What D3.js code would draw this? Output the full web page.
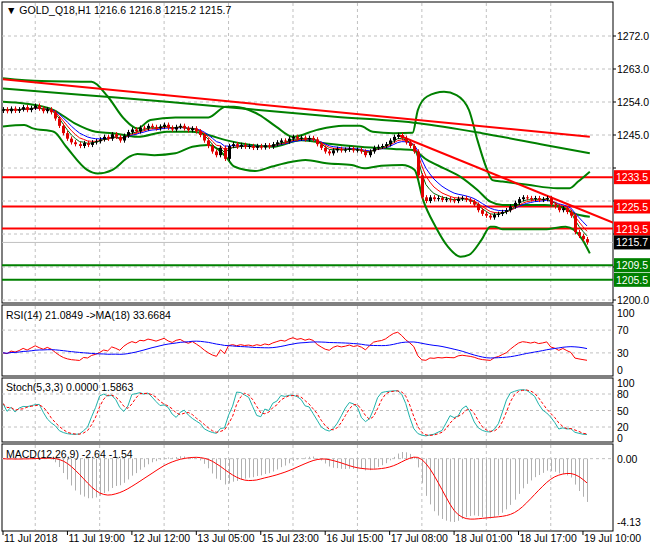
<!DOCTYPE html>
<html><head><meta charset="utf-8">
<script src="https://cdn.jsdelivr.net/npm/d3@7"></script>
<style>body{margin:0;background:#fff}text{font-family:"Liberation Sans",Arial,sans-serif}</style>
</head><body><svg id="c" width="650" height="550"></svg>
<script>
// ---------- data ----------
const closes = [1252,1251.5,1252.2,1251.6,1252,1252.6,1251.8,1252.4,1253,1252.2,1251.5,1252,1251.2,
1249.5,1247.5,1245.5,1244,1243,
1242.5,1242,1242.8,1242.3,1243,1243.3,1243.8,
1244.5,1244,1245.2,1244.5,1243.5,1244.8,
1245.8,1246.5,1246,1247,1246.8,
1247.5,1247.2,1246.8,1247.3,1247.8,1247,1246.5,1247.2,1247.5,1246.8,1246.3,1246.8,1246,
1245,1243.5,1242,
1240.5,1239.5,1241.5,1238.5,1242,
1242.5,1241.8,1242.3,1241.8,1242,1241.5,1242,1241.6,1242.2,1241.8,1242.5,
1243,1243.5,1243.2,1244,1244.5,
1244,1244.3,1243.8,1244.2,1243.8,1242.5,
1241.5,1240.5,1240,1240.8,
1241.2,1240.8,1241,1241.3,1240.8,1241,1240.5,
1239.5,1240.5,
1241.5,1241.8,1242,1242.5,1243.5,
1244.5,1245,1244.2,
1243,1242,1240.5,
1234,1228,1227,
1228,1227.5,1227.8,1227.3,1227.5,1227.2,1227,1227.6,1227.8,1227.3,1226.8,
1226,1224.5,1223.5,1223,1222.5,
1223.2,1223.5,1224,1224.5,
1225.5,1226.5,1227.5,
1228,1227.8,1227.5,1227.8,1227.3,1227.5,1227.8,
1226,1225.5,1224.5,1225,1224,1223,
1218.5,1217.5,1216.6,1215.7];
const firstOpen = 1251.6;
const wick = 0.6;
// bands: [barIndex, price]
const bbUpper = [[0,1260.5],[9.5,1259.7],[22,1259.5],[26,1255.5],[30,1249.5],[33.4,1246.8],[36.6,1249.1],[42.8,1249.8],[51,1249.8],[55.3,1252.7],[57.4,1252.7],[63.6,1250.5],[67.8,1247.3],[72,1244.5],[78,1246.4],[84.5,1247.5],[88.6,1247.5],[91.8,1245.9],[97,1245.5],[101.7,1245.6],[103,1251.8],[105.3,1255.5],[109.5,1256.8],[112.6,1255.9],[115.7,1251.8],[117.8,1243.6],[119.9,1236.4],[121.5,1232.7],[124,1232.3],[130.3,1231.4],[137.6,1230.5],[140.7,1230.5],[142.8,1232.3],[145.7,1235]];
const bbLower = [[0,1247.3],[5.3,1247.7],[7.4,1246.8],[12.6,1245.9],[15.7,1241.8],[20.9,1235.5],[23.5,1234.5],[27.2,1235.5],[31.4,1239.1],[33.4,1239.8],[37.6,1239.5],[42.8,1240],[47,1241.8],[51,1242.3],[55.3,1239.1],[57.4,1236.4],[62.6,1235.2],[66.8,1236.4],[70,1237.3],[75.1,1238.2],[80.3,1237.3],[86.6,1236.8],[89.7,1235.9],[93.9,1236.6],[99.1,1236.8],[102.2,1235.5],[104.3,1227.3],[107.4,1220],[110.5,1214.5],[113.6,1211.8],[115.7,1212.3],[118.8,1216.4],[121,1220],[122,1220],[124,1219.3],[134.5,1219.3],[139.7,1220],[141.8,1219.1],[143.9,1216.4],[145.7,1212.7]];
const bbMiddle = [[0,1254.1],[5.3,1253.6],[12.6,1251.8],[17.8,1248.2],[23,1245.9],[27.2,1245.5],[33.4,1244.5],[40.7,1245.9],[47,1245.9],[51,1245],[55.3,1243.6],[61.6,1242.3],[66.8,1241.8],[74.1,1243.6],[80.3,1242.7],[88.6,1241.8],[97,1241.2],[101.7,1240.9],[105.3,1238.2],[109.5,1235.9],[113.6,1233.6],[117.8,1230],[121,1226.8],[124,1225.9],[130.3,1225.9],[134.5,1225.9],[138.7,1225.3],[141.8,1223.6],[145.7,1222.7]];
const longMA = [[0,1257.7],[20,1255.9],[40.7,1254.1],[61.6,1252],[82.4,1250],[103.2,1248.2],[118.9,1245.5],[134.5,1242.3],[145.7,1240]];
const trendLong = [[0,1260.2],[145.7,1244.5]];
const trendShort = [[98,1245],[152.4,1220.7]];
const resistLevels = [1233.5,1225.5,1219.5];
const supportLevels = [1209.5,1205.5];
const lastPrice = 1215.7;
const priceTicks = [1272,1263,1254,1245,1236,1227,1218,1209,1200];
const dateLabels = ["11 Jul 2018","11 Jul 19:00","12 Jul 12:00","13 Jul 05:00","15 Jul 23:00","16 Jul 15:00","17 Jul 08:00","18 Jul 01:00","18 Jul 17:00","19 Jul 10:00"];
const macdLabels = ["0.00","-4.13"];

// ---------- layout ----------
const svg = d3.select("#c");
const L=2,R=613;
const P={main:[2,303],rsi:[305,376],sto:[378,442],macd:[444,531]};
const n=closes.length;
const x=d3.scaleLinear().domain([0,n-1]).range([3,587]);
const y=d3.scaleLinear().domain([1200,1272]).range([300,36]);

const opens=closes.map((c,i)=>i?closes[i-1]:firstOpen);
const highs=closes.map((c,i)=>Math.max(c,opens[i])+wick);
const lows=closes.map((c,i)=>Math.min(c,opens[i])-wick);

svg.append("rect").attr("x",0).attr("y",0).attr("width",650).attr("height",550).attr("fill","#fff");
Object.values(P).forEach(p=>svg.append("rect").attr("x",L).attr("y",p[0]).attr("width",R-L).attr("height",p[1]-p[0]).attr("fill","none").attr("stroke","#000"));
const grid=svg.append("g").attr("stroke","#c0c0c0").attr("stroke-dasharray","3,3");
d3.range(8,n,16).forEach(i=>Object.values(P).forEach(p=>grid.append("line").attr("x1",x(i)).attr("x2",x(i)).attr("y1",p[0]+1).attr("y2",p[1]-1)));
priceTicks.forEach(v=>grid.append("line").attr("x1",L).attr("x2",R).attr("y1",y(v)).attr("y2",y(v)));

const line=(sc)=>d3.line().x(d=>x(d[0])).y(d=>sc(d[1]));
const main=svg.append("g");
main.append("clipPath").attr("id","mc").append("rect").attr("x",L).attr("y",P.main[0]).attr("width",R-L).attr("height",P.main[1]-P.main[0]);
const mg=main.append("g").attr("clip-path","url(#mc)");
resistLevels.forEach(v=>mg.append("line").attr("x1",L).attr("x2",R).attr("y1",y(v)).attr("y2",y(v)).attr("stroke","#f00").attr("stroke-width",2));
supportLevels.forEach(v=>mg.append("line").attr("x1",L).attr("x2",R).attr("y1",y(v)).attr("y2",y(v)).attr("stroke","#008000").attr("stroke-width",2));
mg.append("line").attr("x1",L).attr("x2",R).attr("y1",y(lastPrice)).attr("y2",y(lastPrice)).attr("stroke","#c0c0c0");
[bbUpper,bbLower,bbMiddle,longMA].forEach(d=>mg.append("path").attr("d",line(y).curve(d3.curveMonotoneX)(d)).attr("fill","none").attr("stroke","#008000").attr("stroke-width",2));
[trendLong,trendShort].forEach(d=>mg.append("path").attr("d",line(y)(d)).attr("fill","none").attr("stroke","#f00").attr("stroke-width",2));
function ema(a,p){const k=2/(p+1);let e=a[0];return a.map(v=>e=e+(v-e)*k);}
[[ema(closes,9),"#00f"],[ema(closes,6),"#f00"],[ema(closes,4),"#006400"]].forEach(([m,c])=>mg.append("path").attr("d",line(y)(m.map((v,i)=>[i,v]))).attr("fill","none").attr("stroke",c).attr("stroke-width",1));
const cg=mg.append("g");
closes.forEach((c,i)=>{const up=c>=opens[i];const col=up?"#000":"#e00000";const cx=Math.round(x(i))+0.5;
 cg.append("line").attr("x1",cx).attr("x2",cx).attr("y1",y(highs[i])).attr("y2",y(lows[i])).attr("stroke",col);
 const t=y(Math.max(c,opens[i])),b=y(Math.min(c,opens[i]));
 cg.append("rect").attr("x",cx-1.5).attr("y",t).attr("width",3).attr("height",Math.max(1,b-t)).attr("fill",col);});

// price axis
const ax=svg.append("g").attr("font-size",10.5);
const tagVals=resistLevels.concat(supportLevels,[lastPrice]);
priceTicks.forEach(v=>{ax.append("line").attr("x1",R).attr("x2",R+3).attr("y1",y(v)).attr("y2",y(v)).attr("stroke","#000");
 if(tagVals.every(t=>Math.abs(y(t)-y(v))>13)) ax.append("text").attr("x",617).attr("y",y(v)+4).text(v.toFixed(1));});
function tag(v,fill){ax.append("rect").attr("x",R+1).attr("y",y(v)-7).attr("width",36).attr("height",14).attr("fill",fill);
 ax.append("text").attr("x",616).attr("y",y(v)+4).attr("fill","#fff").text(v.toFixed(1));}
resistLevels.forEach(v=>tag(v,"#f00"));supportLevels.forEach(v=>tag(v,"#008000"));tag(lastPrice,"#000");
svg.append("text").attr("x",6).attr("y",14).attr("font-size",10.5).text("\u25BC GOLD_Q18,H1  1216.6 1216.8 1215.2 1215.7");

// RSI (Wilder, seeded from first 14 changes)
function rsi(a,p){const d=a.slice(1).map((v,i)=>v-a[i]);let g=d3.mean(d.slice(0,p),q=>Math.max(q,0)),l=d3.mean(d.slice(0,p),q=>Math.max(-q,0));
 const out=[];for(let i=0;i<a.length;i++){if(i>0){const q=d[i-1];g=(g*(p-1)+Math.max(q,0))/p;l=(l*(p-1)+Math.max(-q,0))/p;}out.push(100-100/(1+g/l));}return out;}
const rs=rsi(closes,14);
const rsMa=rs.map((v,i)=>d3.mean(rs.slice(Math.max(0,i-17),i+1)));
const yr=d3.scaleLinear().domain([0,100]).range([370,313]);
[70,30].forEach(v=>grid.append("line").attr("x1",L).attr("x2",R).attr("y1",yr(v)).attr("y2",yr(v)));
svg.append("path").attr("d",line(yr)(rs.map((v,i)=>[i,v]))).attr("fill","none").attr("stroke","#f00");
svg.append("path").attr("d",line(yr)(rsMa.map((v,i)=>[i,v]))).attr("fill","none").attr("stroke","#00f");
[100,70,30,0].forEach(v=>ax.append("text").attr("x",617).attr("y",yr(v)+4).text(v));
svg.append("text").attr("x",6).attr("y",319).attr("font-size",10.5).text("RSI(14) 21.0849  ->MA(18) 33.6684");

// Stoch
const K=closes.map((c,i)=>{const s=Math.max(0,i-4);const hh=d3.max(highs.slice(s,i+1)),ll=d3.min(lows.slice(s,i+1));return [c-ll,hh-ll];});
const kS=K.map((v,i)=>{const s=K.slice(Math.max(0,i-2),i+1);const d=d3.sum(s,q=>q[1]);return d?100*d3.sum(s,q=>q[0])/d:50;});
const dS=kS.map((v,i)=>d3.mean(kS.slice(Math.max(0,i-2),i+1)));
const ys=d3.scaleLinear().domain([0,100]).range([438,383]);
[80,50,20].forEach(v=>grid.append("line").attr("x1",L).attr("x2",R).attr("y1",ys(v)).attr("y2",ys(v)));
svg.append("path").attr("d",line(ys)(kS.map((v,i)=>[i,v]))).attr("fill","none").attr("stroke","#20b2aa");
svg.append("path").attr("d",line(ys)(dS.map((v,i)=>[i,v]))).attr("fill","none").attr("stroke","#f00").attr("stroke-dasharray","3,2");
[100,80,50,20,0].forEach(v=>ax.append("text").attr("x",617).attr("y",ys(v)+4).text(v));
svg.append("text").attr("x",6).attr("y",391).attr("font-size",10.5).text("Stoch(5,3,3) 0.0000 1.5863");

// MACD
const e12=ema(closes,12),e26=ema(closes,26);
const macd=e12.map((v,i)=>v-e26[i]);
const sig=macd.map((v,i)=>d3.mean(macd.slice(Math.max(0,i-8),i+1)));
const mn=d3.min(macd.concat(sig)),mx=Math.max(0.4,d3.max(macd.concat(sig)));
const ym=d3.scaleLinear().domain([mn,mx]).range([522,452]);
grid.append("line").attr("x1",L).attr("x2",R).attr("y1",ym(0)).attr("y2",ym(0));
const hg=svg.append("g").attr("stroke","#b0b0b0");
macd.forEach((v,i)=>hg.append("line").attr("x1",Math.round(x(i))+0.5).attr("x2",Math.round(x(i))+0.5).attr("y1",ym(0)).attr("y2",ym(v)));
svg.append("path").attr("d",line(ym)(sig.map((v,i)=>[i,v]))).attr("fill","none").attr("stroke","#f00");
ax.append("text").attr("x",617).attr("y",ym(0)+4).text(macdLabels[0]);
ax.append("text").attr("x",617).attr("y",ym(mn)+4).text(macdLabels[1]);
svg.append("text").attr("x",6).attr("y",458).attr("font-size",10.5).text("MACD(12,26,9) -2.64 -1.54");

dateLabels.forEach((t,k)=>{const xx=x(k*16);ax.append("line").attr("x1",xx).attr("x2",xx).attr("y1",531).attr("y2",535).attr("stroke","#000");
 ax.append("text").attr("x",xx+1).attr("y",542).text(t);});
</script></body></html>
